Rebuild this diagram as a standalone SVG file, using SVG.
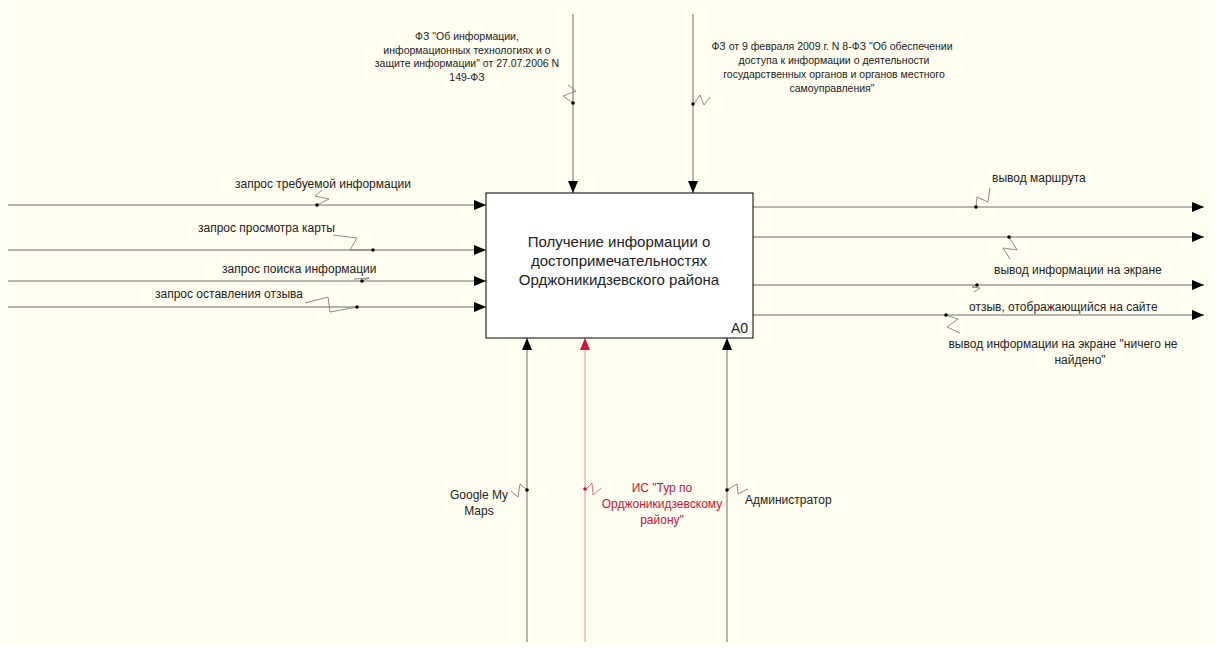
<svg xmlns="http://www.w3.org/2000/svg" width="1216" height="648" viewBox="0 0 1216 648">
<style>
.bg{fill:#FFFEF0}
.box{fill:#ffffff;stroke:#000;stroke-width:1}
.ln{stroke:#6e6e6e;stroke-width:1;fill:none}
.lnr{stroke:#e0a4ae;stroke-width:1.2;fill:none}
.sq{stroke:#6e6e6e;stroke-width:0.8;fill:none}
.sqr{stroke:#d0506e;stroke-width:0.8;fill:none}
.t{font-family:"Liberation Sans",Arial,sans-serif;font-size:12px;fill:#222}
.ts{font-family:"Liberation Sans",Arial,sans-serif;font-size:10.5px;fill:#222}
.tb{font-family:"Liberation Sans",Arial,sans-serif;font-size:15px;fill:#222}
.tr{font-family:"Liberation Sans",Arial,sans-serif;font-size:12px;fill:#c8143c}
.dot{fill:#000}
.dotr{fill:#c8143c}
</style>
<defs>
<marker id="ah" markerUnits="userSpaceOnUse" markerWidth="12" markerHeight="10" refX="12" refY="5" orient="auto">
<path d="M0,0 L12,5 L0,10 z" fill="#000"/>
</marker>
<marker id="ahr" markerUnits="userSpaceOnUse" markerWidth="12" markerHeight="10" refX="12" refY="5" orient="auto">
<path d="M0,0 L12,5 L0,10 z" fill="#d0103a"/>
</marker>
</defs>
<rect class="bg" x="2" y="0" width="1212" height="646"/>

<g id="connectors">
<!-- controls -->
<line class="ln" x1="573" y1="14" x2="573" y2="193" marker-end="url(#ah)"/>
<line class="ln" x1="693" y1="14" x2="693" y2="193" marker-end="url(#ah)"/>
<!-- inputs -->
<line class="ln" x1="8" y1="205" x2="486" y2="205" marker-end="url(#ah)"/>
<line class="ln" x1="8" y1="250" x2="486" y2="250" marker-end="url(#ah)"/>
<line class="ln" x1="8" y1="281" x2="486" y2="281" marker-end="url(#ah)"/>
<line class="ln" x1="8" y1="307" x2="486" y2="307" marker-end="url(#ah)"/>
<!-- outputs -->
<line class="ln" x1="753" y1="207" x2="1204" y2="207" marker-end="url(#ah)"/>
<line class="ln" x1="753" y1="237" x2="1204" y2="237" marker-end="url(#ah)"/>
<line class="ln" x1="753" y1="285" x2="1204" y2="285" marker-end="url(#ah)"/>
<line class="ln" x1="753" y1="315" x2="1204" y2="315" marker-end="url(#ah)"/>
<!-- mechanisms -->
<line class="ln" x1="527" y1="642" x2="527" y2="338" marker-end="url(#ah)"/>
<line class="lnr" x1="585" y1="642" x2="585" y2="338" marker-end="url(#ahr)"/>
<line class="ln" x1="727" y1="642" x2="727" y2="338" marker-end="url(#ah)"/>

<!-- squiggles -->
<polyline class="sq" points="573,103 563,96 576,91 568,85"/>
<polyline class="sq" points="694,104 700,95 704,105 710,97"/>
<polyline class="sq" points="317,205 329,199 315,196 322,190"/>
<polyline class="sq" points="333,235 357,238 350,250 373,250"/>
<polyline class="sq" points="354,279 369,278 362,281"/>
<polyline class="sq" points="305,303 328,297 330,312 357,307"/>
<polyline class="sq" points="976,207 977,197 988,202 990,188"/>
<polyline class="sq" points="1009,237 1017,250 1003,248 1010,259"/>
<polyline class="sq" points="977,285 972,287 980,288 974,292"/>
<polyline class="sq" points="946,315 958,319 947,327 960,333"/>
<polyline class="sq" points="527,490 520,484 518,497 511,491"/>
<polyline class="sqr" points="586,489 592,483 593,495 601,488"/>
<polyline class="sq" points="727,490 737,484 738,494 748,489"/>

<circle class="dot" cx="573" cy="103" r="1.8"/>
<circle class="dot" cx="693" cy="104" r="1.8"/>
<circle class="dot" cx="317" cy="205" r="1.8"/>
<circle class="dot" cx="373" cy="250" r="1.8"/>
<circle class="dot" cx="362" cy="281" r="1.8"/>
<circle class="dot" cx="357" cy="307" r="1.8"/>
<circle class="dot" cx="976" cy="207" r="1.8"/>
<circle class="dot" cx="1009" cy="237" r="1.8"/>
<circle class="dot" cx="977" cy="285" r="1.8"/>
<circle class="dot" cx="946" cy="315" r="1.8"/>
<circle class="dot" cx="527" cy="490" r="1.8"/>
<circle class="dotr" cx="585" cy="489" r="1.8"/>
<circle class="dot" cx="727" cy="490" r="1.8"/>
</g>

<g id="A0">
<rect class="box" x="486" y="193" width="267" height="145"/>
<text class="tb" text-anchor="middle"><tspan x="619" y="247">Получение информации о</tspan><tspan x="619" y="266">достопримечательностях</tspan><tspan x="619" y="285">Орджоникидзевского района</tspan></text>
<text class="t" x="748" y="333" text-anchor="end" style="font-size:14px">A0</text>
</g>

<g id="labels">
<text class="ts" text-anchor="middle"><tspan x="467" y="40">ФЗ "Об информации,</tspan><tspan x="467" y="54">информационных технологиях и о</tspan><tspan x="467" y="67">защите информации" от 27.07.2006 N</tspan><tspan x="467" y="81">149-ФЗ</tspan></text>
<text class="ts" text-anchor="middle"><tspan x="832" y="50">ФЗ от 9 февраля 2009 г. N 8-ФЗ "Об обеспечении</tspan><tspan x="834" y="64">доступа к информации о деятельности</tspan><tspan x="834" y="78">государственных органов и органов местного</tspan><tspan x="832" y="92">самоуправления"</tspan></text>

<text class="t" x="235" y="188">запрос требуемой информации</text>
<text class="t" x="198" y="232">запрос просмотра карты</text>
<text class="t" x="222" y="273">запрос поиска информации</text>
<text class="t" x="155" y="298">запрос оставления отзыва</text>

<text class="t" x="992" y="182">вывод маршрута</text>
<text class="t" x="994" y="274">вывод информации на экране</text>
<text class="t" x="969" y="311">отзыв, отображающийся на сайте</text>
<text class="t" text-anchor="middle"><tspan x="1063" y="348">вывод информации на экране "ничего не</tspan><tspan x="1080" y="364">найдено"</tspan></text>

<text class="t" text-anchor="middle"><tspan x="479" y="499">Google My</tspan><tspan x="479" y="515">Maps</tspan></text>
<text class="tr" text-anchor="middle"><tspan x="662" y="492">ИС "Тур по</tspan><tspan x="662" y="508">Орджоникидзевскому</tspan><tspan x="662" y="524">району"</tspan></text>
<text class="t" x="745" y="504">Администратор</text>
</g>
</svg>
